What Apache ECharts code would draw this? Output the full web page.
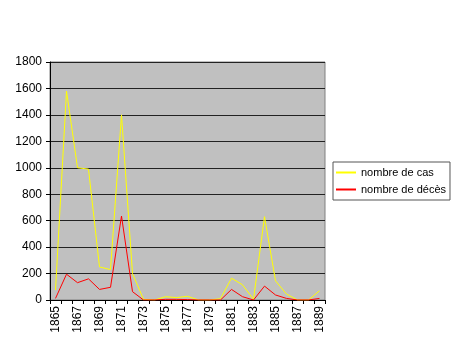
<!DOCTYPE html>
<html><head><meta charset="utf-8">
<script src="https://cdn.jsdelivr.net/npm/echarts@6/dist/echarts.min.js"></script>
<style>html,body{margin:0;padding:0;background:#fff}#c{width:464px;height:351px}</style>
</head><body><div id="c"></div>
<script>
var years = ['1865','1866','1867','1868','1869','1870','1871','1872','1873','1874','1875','1876','1877','1878','1879','1880','1881','1882','1883','1884','1885','1886','1887','1888','1889'];
var cas = [75,1580,1000,990,250,230,1400,200,5,0,25,18,28,0,0,10,165,115,5,630,145,45,0,0,70];
var deces = [12,195,131,160,80,96,635,63,0,0,5,5,3,0,0,0,80,25,0,105,38,12,0,0,12];
var yTicks = {min:0, max:1800, interval:200};

var chart = echarts.init(document.getElementById('c'));
chart.setOption({
  animation:false,
  textStyle:{fontFamily:'Liberation Sans, Arial, sans-serif'},
  grid:{left:50, top:62, right:139, bottom:51, show:true, backgroundColor:'#c0c0c0', borderColor:'#808080', borderWidth:1},
  legend:{
    orient:'vertical', left:333, top:162,
    backgroundColor:'#fff', borderColor:'#555', borderWidth:1,
    padding:[5,4,5,3], itemGap:6, itemWidth:20, itemHeight:2, icon:'rect',
    textStyle:{fontSize:11, color:'#000', fontFamily:'Liberation Sans, Arial, sans-serif'},
    data:[
      {name:'nombre de cas', itemStyle:{color:'#ffff00'}},
      {name:'nombre de décès', itemStyle:{color:'#ff0000'}}
    ]
  },
  xAxis:{
    type:'category', data:years, boundaryGap:true,
    axisLine:{lineStyle:{color:'#000'}},
    axisTick:{show:true, length:4, interval:0, lineStyle:{color:'#000'}},
    axisLabel:{rotate:90, interval:1, color:'#000', fontSize:12, margin:6},
    splitLine:{show:false}
  },
  yAxis:{
    type:'value', min:yTicks.min, max:yTicks.max, interval:yTicks.interval,
    axisLine:{show:true, lineStyle:{color:'#000'}},
    axisTick:{show:true, inside:false, length:4, lineStyle:{color:'#000'}},
    axisLabel:{color:'#000', fontSize:12, margin:8, formatter:function(v){return String(v);}},
    splitLine:{show:true, lineStyle:{color:'#222', width:1}}
  },
  series:[
    {name:'nombre de cas', type:'line', data:cas, symbol:'none', lineStyle:{color:'#ffff00', width:1}, itemStyle:{color:'#ffff00'}},
    {name:'nombre de décès', type:'line', data:deces, symbol:'none', lineStyle:{color:'#ff0000', width:1}, itemStyle:{color:'#ff0000'}}
  ]
});
</script></body></html>
